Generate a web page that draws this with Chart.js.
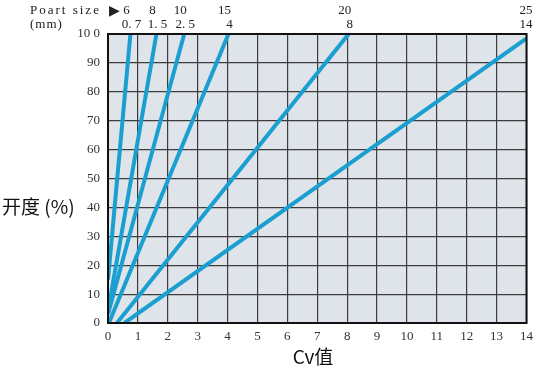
<!DOCTYPE html>
<html><head><meta charset="utf-8">
<script src="https://cdn.jsdelivr.net/npm/chart.js@4/dist/chart.umd.min.js"></script>
<style>html,body{margin:0;padding:0;background:#fff}#wrap{width:539px;height:371px}</style>
</head><body><div id="wrap"><canvas id="c" width="539" height="371"></canvas></div>
<script>
// Data
const portSizes = ['6', '8', '10', '15', '20', '25'];
const cvMaxLabels = ['0. 7', '1. 5', '2. 5', '4', '8', '14'];
const startCv = [0, 0, 0, 0.03, 0.3, 0.55];
const startOpening = [15, 4, 3, 0, 0, 0];
const endCv = [0.75, 1.62, 2.55, 4.03, 8.05, 14];
const endOpening = [100, 100, 100, 100, 100, 98.5];
const xTicks = [0,1,2,3,4,5,6,7,8,9,10,11,12,13,14];
const yTicks = [0,10,20,30,40,50,60,70,80,90,100];
const yTickLabels = ['0','10','20','30','40','50','60','70','80','90','10 0'];

const LINE = '#1a9fd0';
const SERIF = '"Liberation Serif", "DejaVu Serif", serif';

const datasets = portSizes.map((p, i) => ({
  label: p,
  data: [{x: startCv[i], y: startOpening[i]}, {x: endCv[i], y: endOpening[i]}],
  showLine: true,
  borderColor: LINE,
  borderWidth: 4,
  pointRadius: 0,
  fill: false
}));

const deco = {
  id: 'deco',
  beforeDraw(chart) {
    const {ctx, chartArea: a} = chart;
    ctx.save();
    ctx.fillStyle = '#dfe4ea';
    ctx.fillRect(a.left, a.top, a.right - a.left, a.bottom - a.top);
    ctx.restore();
  },
  afterDraw(chart) {
    const {ctx, chartArea: a, scales: {x}} = chart;
    ctx.save();
    ctx.fillStyle = '#222';
    ctx.font = '13px ' + SERIF;
    ctx.textBaseline = 'middle';
    // left header
    ctx.textAlign = 'left';
    ctx.letterSpacing = '2px';
    ctx.fillText('Poart size', 30, 11);
    ctx.letterSpacing = '1px';
    ctx.fillText('(mm)', 30, 25);
    ctx.letterSpacing = '0px';
    ctx.font = '14px "DejaVu Sans"';
    ctx.fillText('\u25B6', 109, 11);
    ctx.font = '13px ' + SERIF;
    portSizes.forEach((p, i) => {
      const px = x.getPixelForValue(endCv[i]);
      if (i === portSizes.length - 1) {
        ctx.textAlign = 'right';
        ctx.fillText(p, px + 6, 11);
        ctx.fillText(cvMaxLabels[i], px + 6, 25);
      } else {
        ctx.textAlign = 'center';
        ctx.fillText(p, px - 4, 11);
        ctx.fillText(cvMaxLabels[i], px + 1, 25);
      }
    });
    // axis titles
    ctx.fillStyle = '#111';
    ctx.font = '19px "Noto Sans CJK SC", "Noto Sans", sans-serif';
    ctx.textAlign = 'left';
    ctx.fillText('开度 (%)', 2, 207);
    ctx.font = '19px "Noto Sans CJK SC", "Noto Sans", sans-serif';
    ctx.textAlign = 'center';
    ctx.fillText('Cv值', 313, 357);
    // border
    ctx.strokeStyle = '#111';
    ctx.lineWidth = 2;
    ctx.strokeRect(a.left, a.top, a.right - a.left, a.bottom - a.top);
    ctx.restore();
  }
};

new Chart(document.getElementById('c'), {
  type: 'scatter',
  data: {datasets},
  options: {
    responsive: false,
    animation: false,
    layout: {padding: {left: 0, right: 10, top: 34, bottom: 0}},
    plugins: {legend: {display: false}, tooltip: {enabled: false}},
    scales: {
      x: {
        type: 'linear', min: 0, max: 14,
        afterBuildTicks(s) { s.ticks = xTicks.map(v => ({value: v})); },
        afterFit(s) { s.height = 48; },
        grid: {color: '#3c3c3c', lineWidth: 1.2, drawTicks: false},
        border: {display: false},
        ticks: {color: '#333', padding: 6, maxRotation: 0, autoSkip: false,
          font: {family: SERIF, size: 13}}
      },
      y: {
        type: 'linear', min: 0, max: 100,
        afterBuildTicks(s) { s.ticks = yTicks.map(v => ({value: v})); },
        afterFit(s) { s.width = 108; },
        grid: {color: '#3c3c3c', lineWidth: 1.2, drawTicks: false},
        border: {display: false},
        ticks: {color: '#333', padding: 8, autoSkip: false,
          callback: (v) => yTickLabels[yTicks.indexOf(v)],
          font: {family: SERIF, size: 13}}
      }
    }
  },
  plugins: [deco]
});
</script>
</body></html>
